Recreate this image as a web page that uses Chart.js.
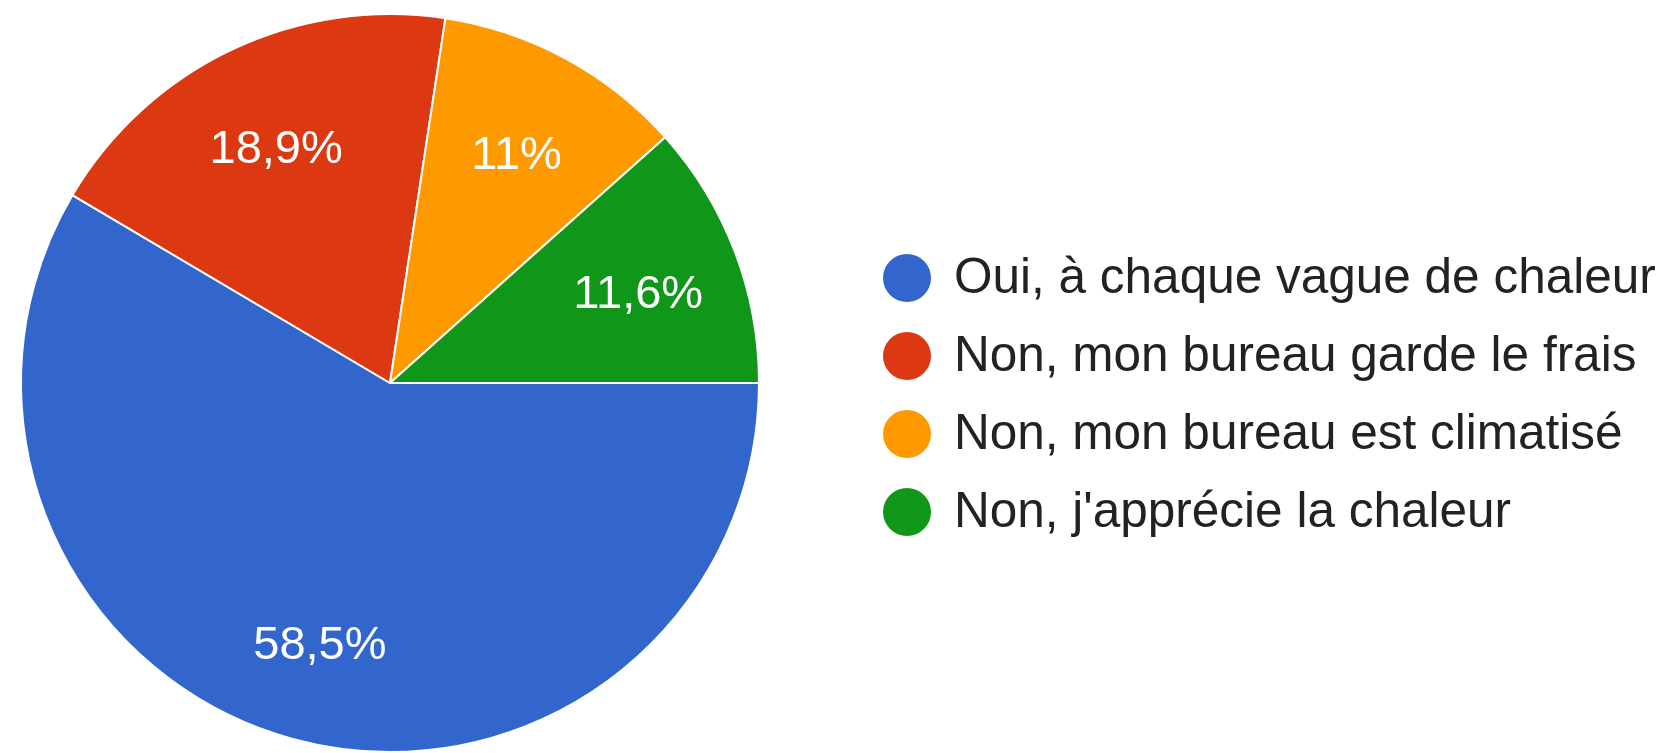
<!DOCTYPE html>
<html>
<head>
<meta charset="utf-8">
<script src="https://cdn.jsdelivr.net/npm/chart.js@4.4.0/dist/chart.umd.min.js"></script>
<style>
html,body{margin:0;padding:0;background:#fff;overflow:hidden}
#wrap{position:relative;width:1661px;height:753px}
</style>
</head>
<body>
<div id="wrap"><canvas id="pieChart"></canvas></div>
<script>
const answers = ["Oui, à chaque vague de chaleur","Non, mon bureau garde le frais","Non, mon bureau est climatisé","Non, j'apprécie la chaleur"];
const shares = [58.5, 18.9, 11.0, 11.6];
const shareText = ["58,5%","18,9%","11%","11,6%"];
const sliceColors = ["#3366cc","#dc3912","#ff9900","#109618"];

const fontFam = "'Liberation Sans', Arial, sans-serif";

// percentage text inside each slice
const sliceText = {
    id:"sliceText",
    afterDatasetsDraw(chart){
        const ctx=chart.ctx;
        const meta=chart.getDatasetMeta(0);
        ctx.save();
        ctx.font="47px "+fontFam;
        ctx.fillStyle="#ffffff";
        ctx.textAlign="center";
        ctx.textBaseline="middle";
        meta.data.forEach((arc,i)=>{
            const p=arc.getProps(["x","y","startAngle","endAngle","outerRadius"],true);
            const mid=(p.startAngle+p.endAngle)/2;
            const r=p.outerRadius*0.72;
            ctx.fillText(shareText[i], p.x+Math.cos(mid)*r, p.y+Math.sin(mid)*r+7);
        });
        ctx.restore();
    }
};

// legend on the right, dots + text
const sideLegend = {
    id:"sideLegend",
    afterDraw(chart){
        const ctx=chart.ctx;
        const ds=chart.data.datasets[0];
        ctx.save();
        ctx.font="49.5px "+fontFam;
        ctx.textAlign="left";
        ctx.textBaseline="middle";
        chart.data.labels.forEach((lab,i)=>{
            const y=278+i*78;
            ctx.beginPath();
            ctx.arc(907,y,24,0,Math.PI*2);
            ctx.fillStyle=ds.backgroundColor[i];
            ctx.fill();
            ctx.fillStyle="#222222";
            ctx.fillText(lab,954,y+1);
        });
        ctx.restore();
    }
};

new Chart(document.getElementById("pieChart"),{
    type:"pie",
    data:{
        labels:answers,
        datasets:[{ data:shares, backgroundColor:sliceColors, borderColor:"#ffffff", borderWidth:2, hoverOffset:0 }]
    },
    options:{
        responsive:true, maintainAspectRatio:false,
        animation:false,
        rotation:90,
        layout:{ padding:{ left:20, top:13, right:901, bottom:0 } },
        plugins:{ legend:{display:false}, tooltip:{enabled:false} }
    },
    plugins:[sliceText, sideLegend]
});
</script>
</body>
</html>
